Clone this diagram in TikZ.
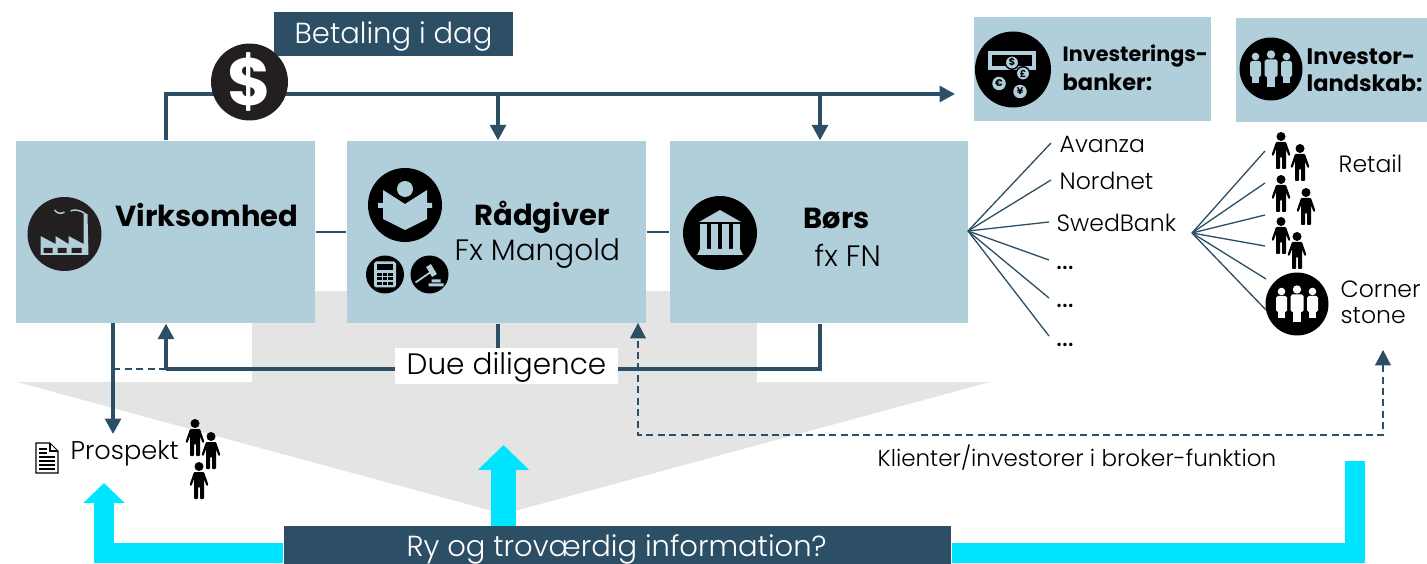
\documentclass[tikz,border=0pt]{standalone}
\usepackage{fontspec}
\setmainfont{Poppins Light}[BoldFont=Poppins Bold]
\usepackage{xcolor}
\definecolor{Box-blue}{RGB}{176, 207, 219}
\definecolor{Line-blue}{RGB}{45, 79, 102}
\definecolor{Arrow-cyan}{RGB}{0, 229, 255}
\definecolor{Back-gray}{RGB}{228, 228, 228}
\definecolor{Icon-black}{RGB}{35, 31, 32}
\usetikzlibrary{backgrounds,arrows.meta,positioning,calc}

\tikzset{
    person/.pic = {
        \fill [black] (0,4.5) circle (4.5);
        \fill [black, rounded corners=0.5pt] (-5,10)--(5,10)--(9.5,23)--(7.5,24)--(5,17)--(5,37)--(1,37)--(1,25)--(-1,25)--(-1,37)--(-5,37)--(-5,17)--(-7.5,24)--(-9.5,23)--cycle;
    },
    trio/.pic = {
        \foreach \px in {-15.5,15.5} {
            \path [pic actions] (\px,-12.5) circle (3.8);
            \path [pic actions, rounded corners=1pt] (\px-5.5,-8) rectangle (\px+5.5,8);
            \path [pic actions] (\px-3.5,8) rectangle (\px+3.5,14);
        }
        \path [pic actions] (0,-14.5) circle (4.2);
        \path [pic actions, rounded corners=1pt] (-6.5,-9.5) rectangle (6.5,8);
        \path [pic actions] (-4,8) rectangle (4,18);
    }
}

\begin{document}
\begin{tikzpicture} [ % px of the slide
    x=0.02cm, y=-0.02cm, thick, >={Triangle[length=0.31cm,width=0.32cm]},
    rec/.style = {shape = rectangle, minimum height = 3.64cm, minimum width = 5.98cm, fill = Box-blue},
    rec2/.style = {shape = rectangle, minimum height = 2.08cm, fill = Box-blue},
    rec3/.style = {shape = rectangle, fill = Line-blue, text = white, font = \fontsize{16.5}{16}\selectfont},
    tex/.style = {anchor = west, inner sep = 0pt, text = black, font = \fontsize{13.4}{13}\selectfont},
    tex2/.style = {anchor = west, inner sep = 0pt, text = black, font = \fontsize{16.8}{16}\selectfont},
    texdot/.style = {anchor = base west, inner sep = 0pt, text = black, font = \fontsize{19}{19}\selectfont},
    texb/.style = {anchor = west, inner sep = 0pt, text = black, font = \fontsize{16.5}{16}\bfseries},
    texh/.style = {anchor = west, inner sep = 0pt, text = black, font = \fontsize{12.8}{12}\bfseries},
    icon/.style = {circle, fill = Icon-black, inner sep = 0pt, minimum size = 1.48cm},
    icon2/.style = {circle, fill = black, inner sep = 0pt, minimum size = 1.26cm},
    icon3/.style = {circle, fill = black, inner sep = 0pt, minimum size = 0.76cm},
    coin/.style = {circle, fill = Box-blue, inner sep = 0pt, minimum size = 0.27cm, font = \fontsize{5.5}{5}\bfseries},
    link/.style = {draw = Line-blue, line width = 1.72pt},
    link2/.style = {draw = Line-blue, line width = 0.75pt},
    link3/.style = {draw = Line-blue, line width = 0.8pt, dash pattern = on 4pt off 2.5pt},
    fat/.style = {draw = Arrow-cyan}
]
\useasboundingbox (0,0) rectangle (1427,564);

% kasser
\node [rec] (vir) at (165.5,232){};
\node [rec] (rad) at (496.5,232){};
\node [rec] (bor) at (819,232){};
\node [rec2, minimum width = 4.74cm] (ban) at (1092.5,69){};
\node [rec2, minimum width = 3.82cm] (lan) at (1331.5,70){};
\node [rec3, minimum width = 4.78cm, minimum height = 0.88cm, text depth = 0pt] (bet) at (393.5,34){};
\node [text = white, inner sep = 0pt, font = \fontsize{16.5}{16}\selectfont] (bett) at (393.5,36){Betaling i dag};
\node [rec3, minimum width = 13.34cm, minimum height = 0.76cm] (ry) at (617.5,545){};
\node [text = white, inner sep = 0pt, font = \fontsize{16.5}{16}\selectfont] (rytex) at (616.5,549.5){Ry og trov\ae rdig information?};

% tekst i kasser
\node [texb] (virt) at (115,215){Virksomhed};
\node [texb] (radt) at (474,217){R\aa dgiver};
\node [tex2] (radf) at (454,254){Fx Mangold};
\node [texb] (bort) at (803,218){B\o rs};
\node [tex2] (borf) at (814,255){fx FN};
\node [texh, font = \fontsize{11.8}{12}\bfseries] (bant) at (1062,56){Investerings-};
\node [texh] (bant2) at (1062,82){banker:};
\node [texh] (lant) at (1306,57){Investor-};
\node [texh] (lant2) at (1306,83){landskab:};

% navne til hoejre
\node [tex] (ava) at (1059,144){Avanza};
\node [tex] (nor) at (1059,181){Nordnet};
\node [tex] (swe) at (1056,223){SwedBank};
\node [texdot] (dot1) at (1056,270){\dots};
\node [texdot] (dot2) at (1056,308){\dots};
\node [texdot] (dot3) at (1056,346){\dots};
\node [tex] (ret) at (1338,164){Retail};
\node [tex] (cor) at (1340,289){Corner};
\node [tex] (sto) at (1340,316){stone};
\node [tex, font = \fontsize{14.6}{14}\selectfont] (pro) at (70,453){Prospekt};
\node [tex, font = \fontsize{13.1}{13}\selectfont] (kli) at (877,458){Klienter/investorer i broker-funktion};

% ikoner
\node [icon, minimum size = 1.54cm, font = \fontsize{38}{38}\bfseries, text = white] (dol) at (249.5,82){\$};
\node [icon] (fac) at (64.5,234){};
\node [icon, fill = black] (rea) at (405,205){};
\node [icon3] (cal) at (385,274.5){};
\node [icon3] (gav) at (429.5,274.5){};
\node [icon, fill = black] (bnk) at (720,233){};
\node [icon, fill = black, minimum size = 1.52cm] (mon) at (1013,69.5){};
\node [icon2] (inv) at (1271,69){};
\node [icon2] (cst) at (1297,304){};

% fabrik
\begin{scope}[shift={(fac.center)}]
    \fill [Box-blue] (-24,2)--(-9,10)--(-9,2)--(4,10)--(4,2)--(19,10)--(19,-20)--(23,-20)--(24,21)--(-24,21)--cycle;
    \fill [Icon-black] (-21,14) rectangle (-12,19) (-7,14) rectangle (2,19) (7,14) rectangle (17,19);
    \draw [Box-blue, line width=0.8pt] (-10,-24) .. controls (-7,-20) and (-3,-20) .. (0,-22) (6,-23) .. controls (10,-25) and (16,-24) .. (21,-20);
\end{scope}

% laeser
\begin{scope}[shift={(rea.center)}]
    \fill [Box-blue] (0,-16) circle (8);
    \fill [Box-blue] (-22,-15)--(0,-1)--(22,-15)--(22,-2)--(27,-2)--(27,3)--(22,3)--(22,14)--(0,25)--(-22,14)--(-22,3)--(-27,3)--(-27,-2)--(-22,-2)--cycle;
\end{scope}

% lommeregner
\begin{scope}[shift={(cal.center)}]
    \fill [Box-blue, rounded corners=1pt] (-11,-13) rectangle (11,13);
    \fill [black] (-8,-10) rectangle (8,-4);
    \foreach \bx in {-8,-2.5,3} \foreach \by in {-1.5,3,7.5} {
        \fill [black] (\bx,\by) rectangle (\bx+4.5,\by+3);
    }
\end{scope}

% hammer
\begin{scope}[shift={(gav.center)}]
    \draw [Box-blue, line width=1pt] (-14,8)--(2,-3);
    \draw [Box-blue, line width=3.2pt] (-1,-9)--(5,1);
    \fill [Box-blue] (-1,9) rectangle (14,12) (2,5) rectangle (11,8);
\end{scope}

% boers
\begin{scope}[shift={(bnk.center)}]
    \fill [Box-blue] (-21,-11)--(0,-23)--(21,-11)--cycle;
    \foreach \cx in {-16.5,-6,5,16.5} {
        \fill [Box-blue] (\cx-3.5,-9) rectangle (\cx+3.5,17);
    }
    \fill [Box-blue] (-20,16)--(20,16)--(23,22)--(-23,22)--cycle;
\end{scope}

% penge
\begin{scope}[shift={(mon.center)}]
    \fill [Box-blue] (-25,-18) rectangle (23,1);
    \fill [black] (-21,-14) rectangle (19,-3);
    \node [coin, draw = black] (c1) at (-1,-7){\$};
    \node [coin, draw = black] (c2) at (10,4){\pounds};
    \node [coin] (c3) at (-14,14){\symbol{"20AC}};
    \node [coin] (c4) at (7,22){\symbol{"A5}};
\end{scope}

\pic [fill = Box-blue] at (inv.center) {trio};
\pic [fill = white] at (cst.center) {trio};

% folk
\pic at (1281,132) {person};
\pic at (1300,144) {person};
\pic at (1281,175) {person};
\pic at (1306,188) {person};
\pic at (1281,217) {person};
\pic at (1297,232) {person};
\pic at (195,419) {person};
\pic at (211,432) {person};
\pic at (199,462) {person};

% dokument
\draw [black, line width=0.6pt, fill=white] (36,443)--(50,443)--(58,451)--(58,473)--(36,473)--cycle;
\draw [black, line width=0.6pt] (50,443)--(50,451)--(58,451);
\foreach \ly in {449,453} {\draw [black, line width=0.8pt] (39,\ly)--(47,\ly);}
\foreach \ly in {457,461,465,469} {\draw [black, line width=0.8pt] (39,\ly)--(55,\ly);}

% punkter
\coordinate (p1) at (166,94);
\coordinate (p2) at (955,94);
\coordinate (p3) at (498,94);
\coordinate (p4) at (820,94);
\coordinate (d1) at (820,369);
\coordinate (d2) at (166,369);
\coordinate (d3) at (113,369);
\coordinate (k1) at (1383,350);
\coordinate (k2) at (1383,435);
\coordinate (k3) at (638,435);
\coordinate (k4) at (638,323);
\coordinate (f0) at (968,231);
\coordinate (f1) at (1051,143);
\coordinate (f2) at (1051,180);
\coordinate (f3) at (1049,222);
\coordinate (f4) at (1049,260);
\coordinate (f5) at (1049,298);
\coordinate (f6) at (1049,336);
\coordinate (g0) at (1192,233);
\coordinate (g1) at (1265,151);
\coordinate (g2) at (1265,183);
\coordinate (g3) at (1265,215);
\coordinate (g4) at (1265,246);
\coordinate (g5) at (1266,279);
\coordinate (g6) at (1266,310);
\coordinate (a1) at (113,323);
\coordinate (a2) at (113,434);
\coordinate (l1) at (104,553);
\coordinate (l2) at (104,483);
\coordinate (m1) at (503.5,528);
\coordinate (m2) at (503.5,445);
\coordinate (r1) at (1354.5,553);
\coordinate (r2) at (1354.5,461);

% baggrund
\begin{scope}[on background layer]
    \fill [Back-gray] (252,291) rectangle (757,383);
    \fill [Back-gray] (17,382)--(990,382)--(503.5,514)--cycle;
    \draw [fat, line width=0.4cm, -{Triangle[length=0.4cm,width=0.8cm]}] (ry.west |- l1)--(l1)--(l2);
    \draw [fat, line width=0.5cm, -{Triangle[length=0.5cm,width=1cm]}] (m1)--(m2);
    \draw [fat, line width=0.4cm] (ry.east |- r1)--(r1)--(r2);
    \draw [link] (vir.north -| p1)--(p1)--(dol.center |- p1);
    \draw [link,->] (dol.center |- p2)--(p2);
\end{scope}

% linjer
\draw [link,->] (p3)--(rad.north -| p3);
\draw [link,->] (p4)--(bor.north -| p4);

\draw [link2] (vir.east)--(rad.west);
\draw [link2] (rad.east)--(bor.west);

\draw [link] (bor.south -| d1)--(d1)--(d2);
\draw [link,->] (d2)--(vir.south -| d2);
\draw [link] (rad.south -| p3)--(p3 |- d1);
\draw [link3] (d2)--(d3);
\draw [link,->] (a1)--(a2);

\draw [link3,<->] (k1)--(k2)--(k3)--(k4);

\foreach \i in {1,...,6} {
    \draw [link2] (f0)--(f\i);
    \draw [link2] (g0)--(g\i);
}

\node [fill = white, inner sep = 0pt, minimum width = 4.46cm, minimum height = 0.74cm] (due) at (506.5,366){};
\node [inner sep = 0pt, font = \fontsize{16.8}{16}\selectfont] (duet) at (506.5,367){Due diligence};

\end{tikzpicture}
\end{document}
